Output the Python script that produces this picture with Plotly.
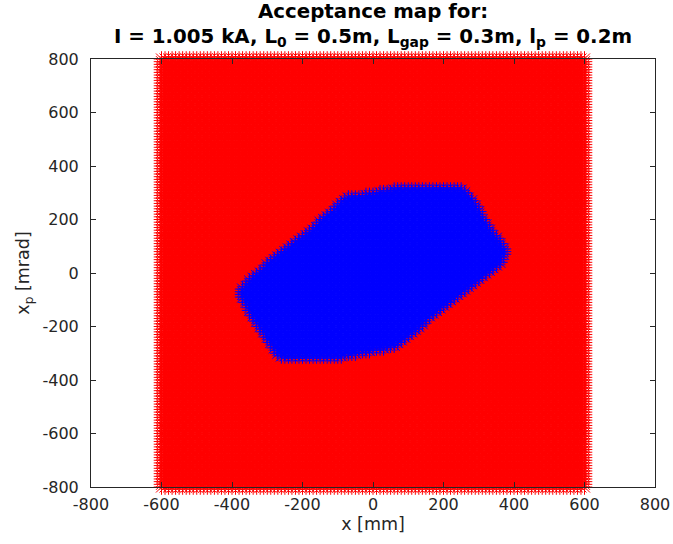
import numpy as np
import plotly.graph_objects as go

# Scan grid of initial conditions
x_values = np.arange(-600, 601, 10)      # x [mm]
xp_values = np.arange(-800, 801, 10)     # x_p [mrad]

# Boundary of the accepted region
accept_x = [-378, -355, -292, -197, -142, -97, -70, 6, 81, 255, 290, 328, 378,
            356, 292, 200, 108, 60, -59, -107, -265, -320, -357]
accept_xp = [-74, -33, 40, 138, 200, 255, 280, 296, 318, 318, 252, 170, 80,
             28, -33, -125, -225, -273, -303, -318, -318, -202, -127]

tick_vals = [-800, -600, -400, -200, 0, 200, 400, 600, 800]
tick_text = ["-800", "-600", "-400", "-200", "0", "200", "400", "600", "800"]

X, XP = np.meshgrid(x_values, xp_values)
X = X.ravel()
XP = XP.ravel()

def inside(px, py, vx, vy):
    vx = np.asarray(vx, float)
    vy = np.asarray(vy, float)
    res = np.zeros(px.shape, bool)
    n = len(vx)
    j = n - 1
    for i in range(n):
        cond = ((vy[i] > py) != (vy[j] > py))
        xint = (vx[j] - vx[i]) * (py - vy[i]) / (vy[j] - vy[i] + 1e-12) + vx[i]
        res ^= cond & (px < xint)
        j = i
    return res

acc = inside(X, XP, accept_x, accept_xp)

fig = go.Figure()
fig.add_trace(go.Scatter(
    x=X[~acc], y=XP[~acc], mode="markers", cliponaxis=False,
    marker=dict(symbol="asterisk-open", size=13, color="red",
                line=dict(color="red", width=1)),
    hoverinfo="skip", showlegend=False))
fig.add_trace(go.Scatter(
    x=X[acc], y=XP[acc], mode="markers", cliponaxis=False,
    marker=dict(symbol="asterisk-open", size=13, color="blue",
                line=dict(color="blue", width=1)),
    hoverinfo="skip", showlegend=False))

axis_common = dict(
    range=[-800, 800], tickvals=tick_vals, ticktext=tick_text,
    showgrid=False, zeroline=False, automargin=False,
    showline=True, linecolor="#262626", linewidth=1, mirror="ticks",
    ticks="inside", ticklen=5, tickcolor="#262626",
    tickfont=dict(family="DejaVu Sans", size=16, color="#262626"),
)

fig.update_layout(
    width=673, height=544,
    margin=dict(l=91, r=18, t=59, b=57),
    paper_bgcolor="white", plot_bgcolor="white",
    font=dict(family="DejaVu Sans", color="#262626"),
    xaxis=dict(axis_common, ticklabelstandoff=3,
               title=dict(text="x [mm]", standoff=4,
                          font=dict(family="DejaVu Sans", size=17.5, color="#262626"))),
    yaxis=dict(axis_common, ticklabelstandoff=8,
               title=dict(text="x<sub>p</sub> [mrad]", standoff=8,
                          font=dict(family="DejaVu Sans", size=17.5, color="#262626"))),
    annotations=[
        dict(text="<b>Acceptance map for:</b>", xref="paper", yref="paper",
             x=0.5, y=1.11, xanchor="center", yanchor="middle", showarrow=False,
             font=dict(family="DejaVu Sans", size=19.8, color="black")),
        dict(text="<b>I = 1.005 kA, L<sub>0</sub> = 0.5m, L<sub>gap</sub> = 0.3m, "
                  "l<sub>p</sub> = 0.2m</b>", xref="paper", yref="paper",
             x=0.5, y=1.05, xanchor="center", yanchor="middle", showarrow=False,
             font=dict(family="DejaVu Sans", size=19.8, color="black")),
    ],
)

fig.write_html("out.html")
